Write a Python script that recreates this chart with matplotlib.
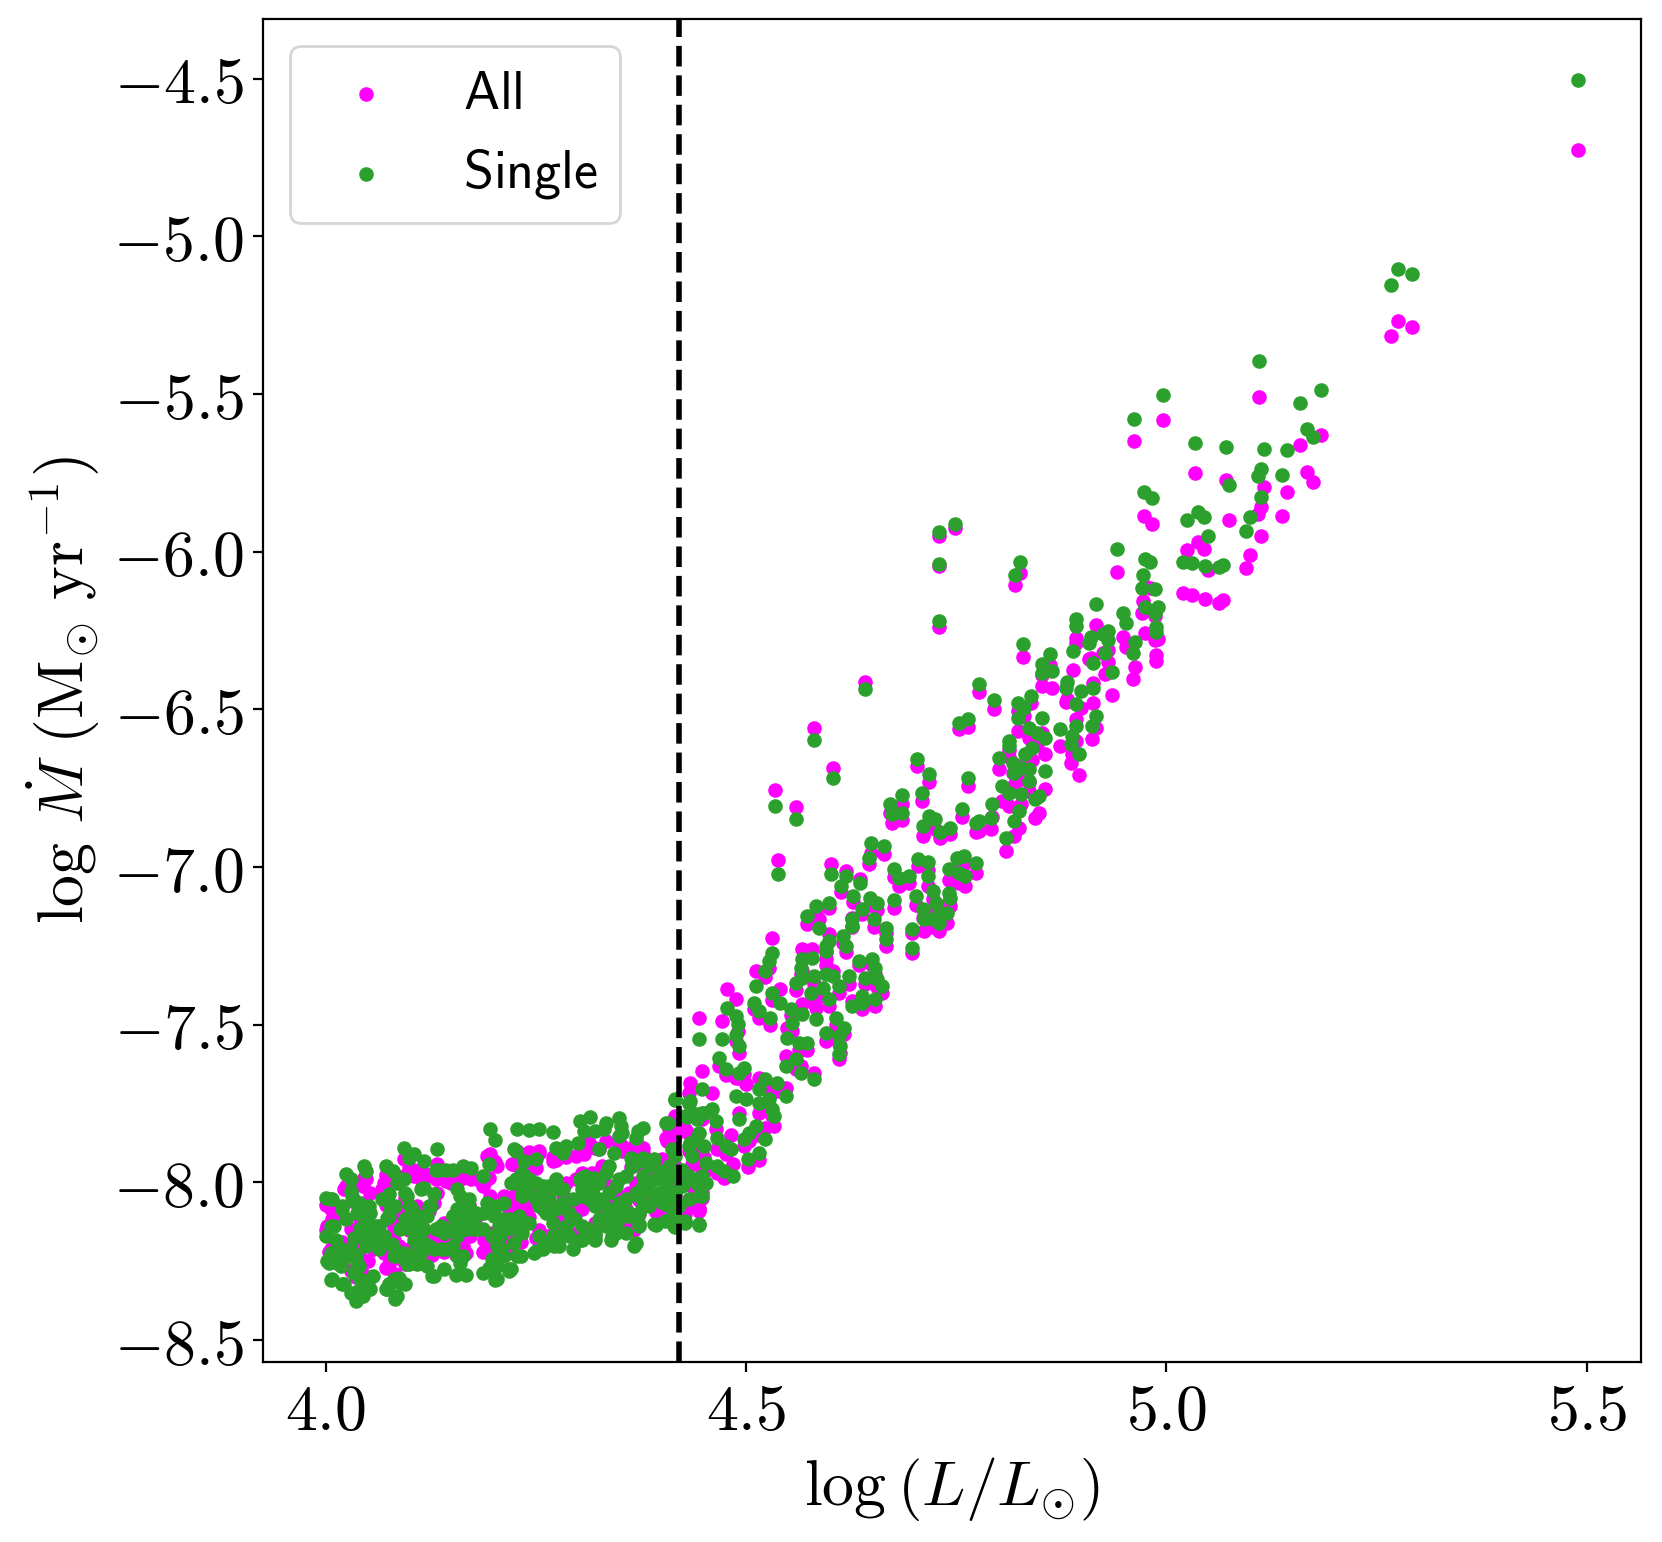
import matplotlib
matplotlib.use("Agg")
import matplotlib.pyplot as plt
from matplotlib.ticker import FuncFormatter

plt.rcParams['mathtext.fontset'] = 'cm'
plt.rcParams['font.family'] = ['DejaVu Sans']

# ---------------- data (log L/Lsun, log Mdot) ----------------
# cool, dense part of the sample (paired All / Single)
lum_cool = [
    4.000, 4.006, 4.024, 4.030, 4.046, 4.048, 4.072, 4.080, 4.093, 4.099,
    4.105, 4.117, 4.133, 4.131, 4.143, 4.151, 4.163, 4.173, 4.196, 4.202,
    4.194, 4.187, 4.228, 4.242, 4.254, 4.270, 4.226, 4.236, 4.250, 4.274,
    4.286, 4.303, 4.315, 4.307, 4.321, 4.333, 4.349, 4.351, 4.353, 4.377,
    4.371, 4.369, 4.363, 4.377, 4.385, 4.407, 4.416, 4.430, 4.442, 4.440,
    4.450,
    4.006, 4.020, 4.030, 4.036, 4.044, 4.050, 4.076, 4.072, 4.083,
    4.087, 4.095, 4.099, 4.111, 4.127, 4.141, 4.155, 4.167, 4.187, 4.194,
    4.202, 4.202, 4.218, 4.232, 4.250, 4.272, 4.294, 4.305, 4.321, 4.339,
    4.367, 4.373, 4.393, 4.416, 4.428, 4.444,
    4.000, 4.010, 4.020, 4.032, 4.040, 4.052, 4.060, 4.064, 4.072, 4.076,
    4.083, 4.095, 4.103, 4.111, 4.099, 4.107, 4.123, 4.131, 4.143, 4.159,
    4.151, 4.171, 4.179, 4.187, 4.198, 4.210, 4.218, 4.230, 4.242, 4.254,
    4.234, 4.242, 4.258, 4.266, 4.282, 4.294, 4.305, 4.317, 4.325, 4.337,
    4.349, 4.361, 4.373, 4.381, 4.397, 4.409, 4.416, 4.416, 4.432, 4.444,
    4.448, 4.151, 4.163, 4.107, 4.087, 4.036, 4.012, 4.020, 4.048, 4.064,
    4.080, 4.123, 4.139, 4.004, 4.040, 4.198, 4.258, 4.266, 4.278, 4.329,
    4.345, 4.357,
]
single_cool = [
    -8.048, -8.054, -7.974, -7.988, -7.948, -7.964, -7.948, -7.964, -7.890, -7.922,
    -7.911, -7.932, -7.893, -7.959, -7.959, -7.959, -7.948, -7.953, -7.830, -7.866,
    -7.943, -7.980, -7.832, -7.834, -7.832, -7.839, -7.901, -7.932, -7.927, -7.890,
    -7.885, -7.805, -7.792, -7.837, -7.837, -7.811, -7.795, -7.821, -7.842, -7.827,
    -7.837, -7.858, -7.922, -7.922, -7.932, -7.813, -7.737, -7.792, -7.800, -7.864,
    -7.885,
    -8.308, -8.323, -8.350, -8.376, -8.360, -8.313, -8.323, -8.339, -8.369,
    -8.302, -8.323, -8.260, -8.255, -8.297, -8.276, -8.292, -8.292, -8.286, -8.271,
    -8.255, -8.308, -8.281, -8.234, -8.218, -8.202, -8.212, -8.181, -8.170, -8.181,
    -8.200, -8.138, -8.136, -8.142, -8.128, -8.136,
    -8.170, -8.138, -8.085, -8.043, -8.064, -8.075, -8.138, -8.170, -8.054, -8.107,
    -8.075, -8.033, -8.085, -8.107, -8.138, -8.170, -8.075, -8.149, -8.154, -8.138,
    -8.107, -8.054, -8.096, -8.149, -8.170, -8.212, -8.117, -8.160, -8.128, -8.170,
    -8.022, -7.990, -8.011, -8.054, -8.022, -8.054, -8.022, -7.990, -8.054, -8.096,
    -8.064, -8.107, -8.043, -8.022, -8.033, -8.075, -8.054, -7.980, -7.980, -8.001,
    -8.043, -8.202, -8.234, -8.234, -8.234, -8.234, -8.244, -8.212, -8.202, -8.202,
    -8.202, -8.202, -8.212, -8.255, -8.265, -8.244, -8.212, -8.191, -8.170, -8.117,
    -8.138, -8.160,
]
all_cool = [
    -8.070, -8.085, -8.010, -8.020, -7.985, -7.990, -7.975, -7.995, -7.925, -7.955,
    -7.960, -7.970, -7.940, -7.990, -7.995, -7.990, -7.985, -7.990, -7.910, -7.935,
    -7.985, -8.010, -7.900, -7.905, -7.900, -7.920, -7.945, -7.960, -7.955, -7.930,
    -7.920, -7.880, -7.880, -7.910, -7.890, -7.870, -7.880, -7.885, -7.900, -7.890,
    -7.880, -7.900, -7.950, -7.955, -7.960, -7.860, -7.830, -7.840, -7.850, -7.900,
    -7.920,
    -8.250, -8.260, -8.280, -8.300, -8.290, -8.250, -8.260, -8.270, -8.290,
    -8.240, -8.260, -8.210, -8.200, -8.230, -8.220, -8.230, -8.225, -8.220, -8.210,
    -8.200, -8.240, -8.220, -8.190, -8.175, -8.160, -8.165, -8.140, -8.130, -8.140,
    -8.150, -8.100, -8.095, -8.100, -8.090, -8.090,
    -8.150, -8.120, -8.100, -8.060, -8.080, -8.090, -8.150, -8.160, -8.070, -8.120,
    -8.095, -8.050, -8.100, -8.120, -8.150, -8.165, -8.090, -8.155, -8.160, -8.145,
    -8.120, -8.070, -8.110, -8.150, -8.160, -8.190, -8.100, -8.150, -8.110, -8.150,
    -8.045, -8.020, -8.035, -8.060, -8.040, -8.060, -8.040, -8.030, -8.060, -8.090,
    -8.070, -8.100, -8.055, -8.040, -8.045, -8.070, -8.060, -8.010, -8.005, -8.020,
    -8.050, -8.180, -8.200, -8.200, -8.200, -8.200, -8.210, -8.190, -8.185, -8.185,
    -8.185, -8.180, -8.190, -8.220, -8.225, -8.210, -8.180, -8.170, -8.150, -8.110,
    -8.120, -8.140,
]

# further stars packed inside the cool clump: Single sample
lum_core_single = [
    4.008, 4.006, 4.012, 4.020, 4.024, 4.030, 4.034, 4.037, 4.041, 4.047,
    4.051, 4.057, 4.063, 4.053, 4.034, 4.030, 4.028, 4.006, 4.002, 4.014,
    4.018, 4.008, 4.022, 4.034, 4.037, 4.041, 4.049, 4.039, 4.057, 4.053,
    4.073, 4.075, 4.085, 4.081, 4.089, 4.097, 4.109, 4.121, 4.129, 4.160,
    4.156, 4.145, 4.129, 4.113, 4.101, 4.093, 4.081, 4.079, 4.063, 4.057,
    4.069, 4.073, 4.077, 4.067, 4.075, 4.085, 4.093, 4.097, 4.101, 4.105,
    4.109, 4.101, 4.105, 4.109, 4.117, 4.117, 4.121, 4.113, 4.117, 4.125,
    4.129, 4.135, 4.133, 4.141, 4.149, 4.152, 4.156, 4.160, 4.156, 4.164,
    4.172, 4.176, 4.180, 4.188, 4.192, 4.200, 4.206, 4.212, 4.204, 4.212,
    4.220, 4.224, 4.216, 4.208, 4.164, 4.176, 4.168, 4.156, 4.204, 4.212,
    4.228, 4.200, 4.204, 4.218, 4.204, 4.137, 4.095, 4.089,
    4.224, 4.282, 4.300, 4.331, 4.349, 4.325, 4.343, 4.373, 4.391, 4.432,
    4.440, 4.450, 4.444, 4.434, 4.416, 4.399, 4.385, 4.377, 4.365, 4.357,
    4.349, 4.337, 4.333, 4.345, 4.337, 4.325, 4.319, 4.309, 4.303, 4.317,
    4.305, 4.313, 4.321, 4.329, 4.337, 4.349, 4.357, 4.369, 4.377, 4.385,
    4.393, 4.404, 4.412, 4.424, 4.440, 4.448, 4.452, 4.424, 4.408, 4.400,
    4.389, 4.385, 4.377, 4.412, 4.420, 4.361, 4.373, 4.349, 4.345, 4.333,
    4.325, 4.321, 4.313, 4.305, 4.297, 4.290, 4.282, 4.278, 4.274, 4.266,
    4.258, 4.250, 4.242, 4.234, 4.226, 4.234, 4.250, 4.254, 4.262, 4.274,
    4.270, 4.286, 4.290, 4.270, 4.278, 4.303, 4.313, 4.321, 4.341, 4.369,
    4.373, 4.391, 4.404, 4.414, 4.230, 4.226, 4.234, 4.224, 4.248, 4.220,
]
mdot_core_single = [
    -8.054, -8.138, -8.181, -8.075, -8.117, -8.027, -8.059, -8.096, -8.149, -8.128,
    -8.170, -8.138, -8.138, -8.096, -8.175, -8.212, -8.234, -8.223, -8.249, -8.255,
    -8.265, -8.307, -8.323, -8.286, -8.265, -8.307, -8.318, -8.344, -8.297, -8.339,
    -8.339, -8.323, -8.360, -8.307, -8.318, -8.260, -8.260, -8.265, -8.297, -8.254,
    -8.233, -8.212, -8.212, -8.223, -8.233, -8.223, -8.233, -8.196, -8.212, -8.186,
    -8.170, -8.112, -8.085, -8.054, -8.038, -8.001, -7.990, -8.043, -8.075, -8.101,
    -8.128, -8.149, -8.181, -8.202, -8.191, -8.149, -8.107, -8.022, -8.017, -8.075,
    -8.038, -7.959, -8.149, -8.159, -8.149, -8.107, -8.085, -8.043, -8.022, -8.054,
    -8.085, -8.112, -8.149, -8.096, -8.064, -8.107, -8.138, -8.117, -8.075, -8.064,
    -8.001, -8.128, -8.149, -8.170, -8.117, -8.149, -8.149, -8.170, -8.202, -8.233,
    -8.233, -8.244, -8.265, -8.276, -8.307, -8.138, -8.117, -8.149,
    -7.895, -7.906, -7.874, -7.832, -7.853, -7.895, -7.906, -7.932, -7.927, -7.747,
    -7.784, -7.779, -7.842, -7.874, -7.916, -7.964, -7.948, -7.980, -7.948, -7.980,
    -7.990, -7.948, -7.969, -8.011, -8.033, -8.001, -7.985, -7.980, -7.990, -8.022,
    -8.043, -8.054, -8.075, -8.064, -8.085, -8.075, -8.054, -8.033, -8.011, -8.001,
    -7.990, -7.980, -7.969, -7.959, -8.001, -7.980, -8.001, -8.011, -8.022, -8.043,
    -8.054, -8.075, -8.075, -8.054, -8.075, -8.096, -8.096, -8.117, -8.160, -8.138,
    -8.117, -8.160, -8.149, -8.138, -8.117, -8.096, -8.064, -8.022, -7.990, -8.011,
    -8.033, -8.054, -8.033, -8.043, -7.990, -7.969, -8.001, -8.075, -8.096, -8.085,
    -8.128, -8.138, -8.170, -8.170, -8.202, -8.181, -8.165, -8.181, -8.170, -8.191,
    -8.133, -8.133, -8.122, -8.138, -8.107, -8.138, -8.160, -8.191, -8.223, -8.276,
]

# further stars packed inside the cool clump: All sample
lum_core_all = [
    4.002, 4.008, 4.014, 4.022, 4.045, 4.053, 4.069, 4.067, 4.073, 4.089,
    4.093, 4.105, 4.113, 4.121, 4.129, 4.133, 4.141, 4.149, 4.156, 4.164,
    4.180, 4.188, 4.196, 4.192, 4.200, 4.204, 4.212, 4.218, 4.141, 4.129,
    4.109, 4.085, 4.081, 4.069, 4.081, 4.057, 4.030, 4.041, 4.045, 4.022,
    4.006, 4.141, 4.172, 4.188, 4.196, 4.204, 4.220, 4.224, 4.109, 4.097,
    4.222, 4.230, 4.242, 4.254, 4.270, 4.276, 4.298, 4.313, 4.325, 4.349,
    4.353, 4.367, 4.377, 4.408, 4.406, 4.416, 4.424, 4.222, 4.226, 4.234,
    4.242, 4.258, 4.278, 4.286, 4.298, 4.305, 4.313, 4.313, 4.286, 4.298,
    4.305, 4.317, 4.329, 4.337, 4.349, 4.361, 4.369, 4.381, 4.393, 4.400,
    4.416, 4.424, 4.416, 4.416, 4.389, 4.377, 4.357, 4.337, 4.329, 4.333,
    4.400, 4.444, 4.436, 4.448, 4.222, 4.230, 4.282, 4.262, 4.254, 4.242,
    4.234,
]
mdot_core_all = [
    -8.138, -8.117, -8.202, -8.022, -8.012, -8.033, -8.001, -8.022, -8.043, -8.096,
    -7.980, -7.980, -7.990, -7.980, -8.064, -8.033, -7.990, -8.001, -7.990, -7.980,
    -7.990, -8.001, -8.043, -7.916, -7.932, -7.948, -8.043, -8.160, -8.181, -8.170,
    -8.170, -8.128, -8.149, -8.223, -8.181, -8.212, -8.149, -8.117, -8.064, -8.212,
    -8.212, -8.128, -8.170, -8.181, -8.170, -8.160, -8.075, -8.043, -8.075, -8.085,
    -7.943, -7.916, -7.911, -7.906, -7.932, -7.922, -7.916, -7.874, -7.895, -7.874,
    -7.885, -7.885, -7.906, -7.832, -7.869, -7.853, -7.811, -8.054, -8.075, -8.085,
    -8.075, -8.085, -8.096, -8.075, -8.085, -8.085, -8.064, -8.022, -8.001, -7.990,
    -7.969, -7.969, -7.948, -8.011, -8.043, -8.033, -8.001, -7.969, -7.948, -7.927,
    -7.948, -7.980, -8.022, -8.043, -8.075, -8.054, -8.085, -8.054, -8.096, -8.107,
    -8.075, -8.085, -8.064, -7.959, -8.160, -8.149, -8.128, -8.054, -8.033, -8.011,
    -7.990,
]

# steep rise just above the dashed line
lum_rise = [
    4.416, 4.405, 4.412, 4.408, 4.405, 4.416, 4.401, 4.414, 4.428, 4.444,
    4.432, 4.444, 4.436, 4.448, 4.452, 4.436, 4.440, 4.432, 4.428, 4.434,
    4.448, 4.448, 4.460, 4.464, 4.466, 4.476, 4.466, 4.474, 4.484, 4.482,
    4.492, 4.498, 4.502, 4.488, 4.500, 4.504, 4.512, 4.516, 4.523, 4.516,
    4.516, 4.531, 4.533, 4.527, 4.547, 4.523, 4.537, 4.547, 4.559, 4.565,
    4.581, 4.563, 4.573, 4.549, 4.555, 4.567, 4.583, 4.595, 4.607, 4.611,
    4.612, 4.611, 4.617, 4.599, 4.577, 4.591, 4.595, 4.603, 4.581, 4.567,
    4.559, 4.565, 4.567, 4.579, 4.595, 4.599, 4.611, 4.623, 4.626, 4.638,
    4.638, 4.642, 4.654, 4.654, 4.656, 4.662, 4.650, 4.634, 4.619, 4.615,
    4.626, 4.626, 4.652, 4.666, 4.666, 4.638, 4.583, 4.573, 4.587, 4.595,
    4.531, 4.527, 4.523, 4.512, 4.510, 4.516, 4.531, 4.541, 4.553, 4.529,
    4.478, 4.488, 4.490, 4.488, 4.472, 4.492, 4.468, 4.476, 4.492, 4.498,
    4.444, 4.432,
]
single_rise = [
    -7.740, -7.813, -7.895, -7.948, -8.012, -8.033, -8.064, -8.096, -8.122, -8.133,
    -8.054, -8.043, -7.990, -8.012, -7.938, -7.916, -7.863, -7.885, -7.790, -7.742,
    -7.705, -7.779, -7.768, -7.805, -7.858, -7.885, -7.948, -7.964, -7.980, -7.895,
    -7.800, -7.863, -7.927, -7.726, -7.737, -7.842, -7.821, -7.906, -7.863, -7.705,
    -7.747, -7.768, -7.790, -7.737, -7.726, -7.673, -7.684, -7.631, -7.610, -7.652,
    -7.673, -7.557, -7.557, -7.541, -7.493, -7.467, -7.483, -7.525, -7.478, -7.536,
    -7.567, -7.594, -7.509, -7.419, -7.398, -7.383, -7.340, -7.345, -7.345, -7.351,
    -7.367, -7.319, -7.293, -7.287, -7.266, -7.234, -7.377, -7.345, -7.441, -7.430,
    -7.409, -7.351, -7.319, -7.419, -7.356, -7.377, -7.293, -7.298, -7.250, -7.219,
    -7.187, -7.166, -7.166, -7.192, -7.229, -7.134, -7.123, -7.155, -7.192, -7.250,
    -7.272, -7.298, -7.330, -7.377, -7.430, -7.457, -7.398, -7.430, -7.451, -7.478,
    -7.446, -7.472, -7.499, -7.531, -7.546, -7.567, -7.605, -7.641, -7.652, -7.636,
    -7.546, -7.747,
]
all_rise = [
    -7.790, -7.860, -7.930, -7.980, -8.030, -8.050, -8.080, -8.110, -8.100, -8.085,
    -8.070, -8.060, -8.010, -8.030, -7.960, -7.940, -7.890, -7.900, -7.830, -7.684,
    -7.647, -7.800, -7.716, -7.830, -7.895, -7.910, -7.970, -7.985, -7.940, -7.848,
    -7.780, -7.885, -7.950, -7.668, -7.689, -7.870, -7.850, -7.930, -7.827, -7.668,
    -7.779, -7.790, -7.820, -7.760, -7.700, -7.700, -7.710, -7.599, -7.640, -7.631,
    -7.652, -7.580, -7.580, -7.509, -7.520, -7.435, -7.446, -7.550, -7.500, -7.560,
    -7.590, -7.610, -7.530, -7.440, -7.425, -7.410, -7.309, -7.330, -7.370, -7.330,
    -7.390, -7.340, -7.261, -7.261, -7.290, -7.213, -7.400, -7.370, -7.425, -7.450,
    -7.430, -7.370, -7.340, -7.440, -7.380, -7.400, -7.310, -7.309, -7.270, -7.240,
    -7.160, -7.190, -7.190, -7.210, -7.250, -7.150, -7.150, -7.180, -7.166, -7.270,
    -7.224, -7.320, -7.350, -7.330, -7.450, -7.480, -7.420, -7.388, -7.470, -7.500,
    -7.388, -7.419, -7.520, -7.550, -7.488, -7.590, -7.630, -7.660, -7.670, -7.655,
    -7.478, -7.716,
]

# middle of the luminous branch
lum_mid = [
    4.730, 4.642, 4.581, 4.603, 4.535, 4.559, 4.538, 4.830, 4.862, 4.852,
    4.864, 4.852, 4.777, 4.795, 4.753, 4.764, 4.823, 4.831, 4.839, 4.852,
    4.823, 4.837, 4.846, 4.856, 4.874, 4.916, 4.912, 4.892, 4.888, 4.886,
    4.896, 4.813, 4.813, 4.801, 4.832, 4.840, 4.817, 4.827, 4.819, 4.837,
    4.856, 4.837, 4.805, 4.813, 4.827, 4.844, 4.848, 4.793, 4.825, 4.819,
    4.791, 4.777, 4.773, 4.809, 4.764, 4.757, 4.743, 4.731, 4.725, 4.718,
    4.709, 4.718, 4.703, 4.686, 4.671, 4.674, 4.686, 4.710, 4.649, 4.664,
    4.646, 4.704, 4.716, 4.751, 4.759, 4.773, 4.741, 4.753, 4.761, 4.676,
    4.682, 4.694, 4.716, 4.722, 4.741, 4.743, 4.739, 4.702, 4.710, 4.712,
    4.698, 4.722, 4.730, 4.730, 4.726, 4.676, 4.697, 4.601, 4.619, 4.613,
    4.627, 4.636, 4.648, 4.656, 4.599,
    4.730, 4.749, 4.729, 4.826, 4.820,
]
single_mid = [
    -6.219, -6.434, -6.597, -6.716, -6.806, -6.849, -7.021, -6.294, -6.325, -6.357,
    -6.378, -6.383, -6.420, -6.471, -6.542, -6.531, -6.479, -6.494, -6.457, -6.526,
    -6.526, -6.558, -6.574, -6.590, -6.561, -6.521, -6.553, -6.553, -6.584, -6.611,
    -6.642, -6.600, -6.616, -6.653, -6.642, -6.621, -6.669, -6.685, -6.701, -6.690,
    -6.695, -6.727, -6.743, -6.764, -6.769, -6.785, -6.775, -6.801, -6.822, -6.854,
    -6.843, -6.854, -6.859, -6.907, -6.716, -6.817, -6.875, -6.889, -6.849, -6.838,
    -6.764, -6.706, -6.656, -6.771, -6.801, -6.833, -6.827, -6.870, -6.923, -6.933,
    -6.970, -6.973, -6.984, -6.970, -6.965, -6.986, -7.007, -7.018, -7.028, -7.007,
    -7.034, -7.028, -7.028, -7.076, -7.081, -7.097, -7.145, -7.092, -7.134, -7.166,
    -7.197, -7.166, -7.176, -7.145, -7.113, -7.104, -7.256, -7.023, -7.028, -7.060,
    -7.092, -7.049, -7.097, -7.113, -7.113,
    -5.937, -5.911, -6.038, -6.031, -6.075,
]
all_mid = [
    -6.240, -6.413, -6.560, -6.687, -6.757, -6.808, -6.977, -6.333, -6.360, -6.390,
    -6.431, -6.426, -6.444, -6.500, -6.563, -6.555, -6.505, -6.520, -6.480, -6.574,
    -6.568, -6.590, -6.610, -6.642, -6.616, -6.560, -6.595, -6.600, -6.640, -6.669,
    -6.709, -6.630, -6.650, -6.690, -6.670, -6.660, -6.701, -6.720, -6.740, -6.730,
    -6.751, -6.760, -6.790, -6.806, -6.800, -6.843, -6.827, -6.840, -6.875, -6.901,
    -6.878, -6.886, -6.890, -6.949, -6.743, -6.841, -6.896, -6.907, -6.880, -6.860,
    -6.790, -6.730, -6.680, -6.800, -6.830, -6.860, -6.850, -6.900, -6.954, -6.960,
    -6.990, -6.997, -7.010, -7.000, -6.990, -7.018, -7.040, -7.050, -7.060, -7.030,
    -7.060, -7.050, -7.060, -7.100, -7.110, -7.124, -7.176, -7.120, -7.160, -7.203,
    -7.208, -7.190, -7.203, -7.170, -7.140, -7.130, -7.271, -6.991, -7.012, -7.080,
    -7.110, -7.037, -7.120, -7.135, -7.130,
    -5.950, -5.925, -6.045, -6.066, -6.106,
]

# most luminous stars
lum_bright = [
    5.110, 4.996, 4.962, 5.184, 5.159, 5.167, 5.174, 5.034, 5.071, 5.116,
    5.144, 5.137, 5.112, 5.109, 5.113, 5.075, 5.100, 5.095, 4.973, 4.983,
    5.025, 5.037, 5.045, 5.049, 5.020, 5.031, 5.046, 5.063, 5.067, 4.941,
    4.975, 4.981, 4.972, 4.971, 4.986, 4.975, 4.990, 4.987, 4.988, 4.988,
    4.916, 4.948, 4.952, 4.963, 4.960, 4.893, 4.893, 4.910, 4.908, 4.924,
    4.930, 4.930, 4.927, 4.913, 4.935, 4.889, 4.882, 4.880, 4.899, 4.913,
    4.893,
    5.267, 5.275, 5.292, 5.490,
]
single_bright = [
    -5.395, -5.504, -5.578, -5.488, -5.529, -5.610, -5.636, -5.656, -5.667, -5.675,
    -5.677, -5.757, -5.736, -5.760, -5.825, -5.789, -5.891, -5.933, -5.809, -5.831,
    -5.898, -5.874, -5.889, -5.951, -6.031, -6.035, -6.046, -6.048, -6.041, -5.992,
    -6.024, -6.031, -6.075, -6.114, -6.119, -6.174, -6.174, -6.193, -6.238, -6.256,
    -6.166, -6.193, -6.225, -6.285, -6.320, -6.214, -6.237, -6.269, -6.288, -6.262,
    -6.251, -6.281, -6.320, -6.352, -6.380, -6.316, -6.413, -6.431, -6.441, -6.431,
    -6.484,
    -5.155, -5.104, -5.119, -4.504,
]
all_bright = [
    -5.509, -5.583, -5.649, -5.631, -5.662, -5.747, -5.778, -5.749, -5.772, -5.796,
    -5.809, -5.886, -5.858, -5.881, -5.950, -5.900, -6.011, -6.052, -5.886, -5.913,
    -5.994, -5.970, -5.992, -6.058, -6.130, -6.137, -6.151, -6.161, -6.153, -6.063,
    -6.108, -6.115, -6.156, -6.195, -6.204, -6.259, -6.278, -6.280, -6.328, -6.346,
    -6.232, -6.269, -6.301, -6.367, -6.404, -6.272, -6.290, -6.336, -6.340, -6.320,
    -6.310, -6.350, -6.389, -6.415, -6.455, -6.375, -6.468, -6.475, -6.494, -6.480,
    -6.530,
    -5.316, -5.268, -5.288, -4.726,
]

lum_threshold = 4.42
series_labels = ["All", "Single"]
x_ticks = [4.0, 4.5, 5.0, 5.5]
y_ticks = [-8.5, -8.0, -7.5, -7.0, -6.5, -6.0, -5.5, -5.0, -4.5]

lum_all = lum_cool + lum_core_all + lum_rise + lum_mid + lum_bright
mdot_all = all_cool + mdot_core_all + all_rise + all_mid + all_bright
lum_single = lum_cool + lum_core_single + lum_rise + lum_mid + lum_bright
mdot_single = single_cool + mdot_core_single + single_rise + single_mid + single_bright

# ---------------- figure ----------------
fig = plt.figure(figsize=(8.31, 7.71), dpi=200)
ax = fig.add_axes([0.1582, 0.1167, 0.8292, 0.8710])

ax.scatter(lum_all, mdot_all, s=18, color='#ff00ff',
           label=r'$\mathsf{%s}$' % series_labels[0], zorder=2)
ax.scatter(lum_single, mdot_single, s=18, color='#2ca02c',
           label=r'$\mathsf{%s}$' % series_labels[1], zorder=3)
ax.axvline(lum_threshold, color='k', ls='--', lw=2, zorder=4)

ax.set_xticks(x_ticks)
ax.set_yticks(y_ticks)
fmt = FuncFormatter(lambda v, p: r'$%.1f$' % v)
ax.xaxis.set_major_formatter(fmt)
ax.yaxis.set_major_formatter(fmt)
ax.tick_params(labelsize=23)

ax.set_xlabel(r'$\log\hspace{0.04}\left(L/L_{\odot}\right)$', fontsize=23)
ax.set_ylabel(r'$\log\,\dot{M}\ (\mathrm{M}_{\odot}\ \mathrm{yr}^{-1})$', fontsize=23)

ax.legend(loc='upper left', fontsize=19.5)

fig.savefig('out.png', dpi=200)
